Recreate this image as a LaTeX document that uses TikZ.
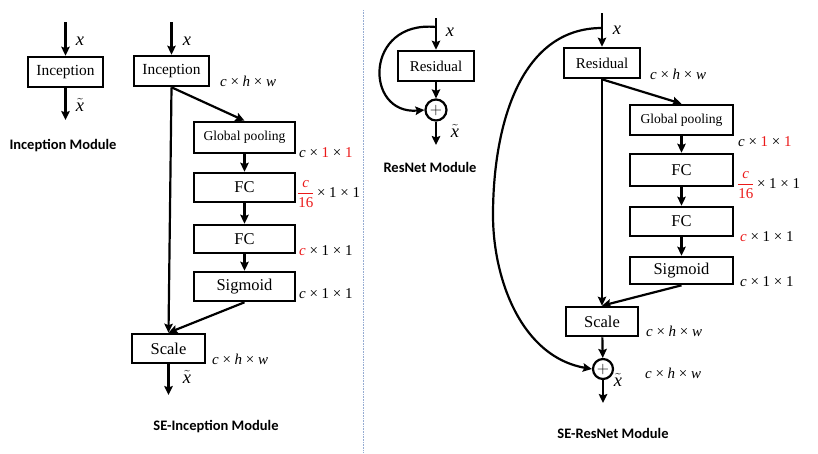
\RequirePackage{fix-cm}
\documentclass[tikz,border=0pt]{standalone}
\usepackage{amsmath}
\usepackage{fontspec}
\setmainfont{Liberation Serif}
\newfontfamily\capfont{Carlito}
\usetikzlibrary{arrows.meta}

\definecolor{dimred}{RGB}{235,25,25}
\definecolor{sepblue}{RGB}{150,172,210}

\newcommand{\vx}{\textit{x}}
\newcommand{\vxt}{$\tilde{\textit{x}}$}
\newcommand{\frsq}{\textcolor{dimred}{$\dfrac{\textit{c}}{\text{16}}$}}

\tikzset{
	block/.style		= {draw, line width=2.6pt, inner sep=0pt, minimum height=30pt, font=\fontsize{16.5}{16.5}\selectfont},
	sumnode/.style		= {circle, draw, line width=2.2pt, inner sep=0pt, minimum size=21pt, font=\fontsize{16}{16}\selectfont},
	dims/.style			= {anchor=west, inner sep=0pt, font=\fontsize{15}{15}\selectfont},
	varlbl/.style		= {inner sep=0pt, font=\fontsize{18.5}{18.5}\selectfont},
	modcap/.style		= {inner sep=0pt, font=\capfont\bfseries\fontsize{14.5}{14.5}\selectfont}
}

\begin{document}
\begin{tikzpicture}[->, > = {Stealth[length=9pt, width=8.5pt, inset=1.5pt]}, line width=2.2pt, x=1pt, y=-1pt]

\useasboundingbox (0,0) rectangle (818,453);

\draw[-, line width=0.6pt, densely dotted, sepblue] (363,10) -- (363,453);

\node[block, minimum width=75pt, font=\fontsize{15.4}{15.4}\selectfont]	(inc)		at (65.5,72)	{Inception};
\coordinate																(inc-in)	at (65.5,22);
\coordinate																(inc-out)	at (65.5,120);
\node[varlbl]															(inc-x)		at (80,41)		{\vx};
\node[varlbl]															(inc-xt)	at (80,105)		{\vxt};
\node[modcap]															(inc-cap)	at (63,146)		{Inception Module};

\path	(inc-in)	edge	(inc);
\path	(inc)		edge	(inc-out);

\node[block, minimum width=75pt, font=\fontsize{15.4}{15.4}\selectfont]	(seinc)		at (171.5,71)	{Inception};
\node[block, minimum width=101pt, minimum height=31pt, font=\fontsize{13.6}{13.6}\selectfont]	(gp1)	at (244.5,137.5)	{Global pooling};
\node[block, minimum width=101pt, minimum height=29pt]					(fc1a)		at (244.5,187.5)	{FC};
\node[block, minimum width=101pt, minimum height=28pt]					(fc1b)		at (244.5,239)		{FC};
\node[block, minimum width=101pt, minimum height=29pt]					(sig1)		at (244.5,286.5)	{Sigmoid};
\node[block, minimum width=73pt, minimum height=29pt]					(scl1)		at (168.5,348.5)	{Scale};
\coordinate																(seinc-in)	at (171.5,22);
\coordinate																(scl1-out)	at (168.5,395);
\node[varlbl]															(seinc-x)	at (187,41)		{\vx};
\node[varlbl]															(scl1-xt)	at (187,377)	{\vxt};
\node[dims]																(seinc-d)	at (219,81)		{\textit{c} × \textit{h} × \textit{w}};
\node[dims]																(gp1-d)		at (298,153)	{\textit{c} × \textcolor{dimred}{1} × \textcolor{dimred}{1}};
\node[dims]																(fc1a-d)	at (296,194)	{\frsq\,× 1 × 1};
\node[dims]																(fc1b-d)	at (298,251)	{\textcolor{dimred}{\textit{c}} × 1 × 1};
\node[dims]																(sig1-d)	at (298,294)	{\textit{c} × 1 × 1};
\node[dims]																(scl1-d)	at (211,359)	{\textit{c} × \textit{h} × \textit{w}};
\node[modcap]															(seinc-cap)	at (216,427)	{SE-Inception Module};

\path	(seinc-in)		edge	(seinc);
\path	(seinc.south)	edge	(gp1.north);
\path	(gp1)			edge	(fc1a);
\path	(fc1a)			edge	(fc1b);
\path	(fc1b)			edge	(sig1);
\path	(seinc.south)	edge	(scl1.north);
\path	(sig1.south)	edge	(scl1.north);
\path	(scl1)			edge	(scl1-out);

\node[block, minimum width=76pt, font=\fontsize{15}{15}\selectfont]		(res)		at (436,66)		{Residual};
\node[sumnode]															(sum)		at (436,110)	{$+$};
\coordinate																(res-in)	at (436,18);
\coordinate																(res-skip)	at (436,27);
\coordinate																(res-out)	at (436,145);
\node[varlbl]															(res-x)		at (450,32)		{\vx};
\node[varlbl]															(res-xt)	at (455,131)	{\vxt};
\node[modcap]															(res-cap)	at (430,167)	{ResNet Module};

\path	(res-in)	edge	(res);
\path	(res)		edge	(sum);
\path	(sum)		edge	(res-out);
\draw	(res-skip) .. controls (364,20) and (364,115) .. (sum.west);

\node[block, minimum width=76pt, font=\fontsize{15}{15}\selectfont]		(seres)		at (602,63)		{Residual};
\node[block, minimum width=103pt, minimum height=30pt, font=\fontsize{13.6}{13.6}\selectfont]	(gp2)	at (681.5,120)	{Global pooling};
\node[block, minimum width=103pt, minimum height=32pt]					(fc2a)		at (681.5,170)		{FC};
\node[block, minimum width=103pt, minimum height=29pt]					(fc2b)		at (681.5,221.5)	{FC};
\node[block, minimum width=103pt, minimum height=27pt]					(sig2)		at (681.5,270.5)	{Sigmoid};
\node[block, minimum width=72pt, minimum height=29pt]					(scl2)		at (602,321.5)		{Scale};
\node[sumnode, minimum size=20pt]										(sum2)		at (603,369)		{$+$};
\coordinate																(seres-in)	at (602,13);
\coordinate																(seres-skip)	at (602,28);
\coordinate																(sum2-out)	at (603,403);
\node[varlbl]															(seres-x)	at (617,30)		{\vx};
\node[varlbl]															(sum2-xt)	at (618,380)	{\vxt};
\node[dims]																(seres-d)	at (649,74)		{\textit{c} × \textit{h} × \textit{w}};
\node[dims]																(gp2-d)		at (737,142)	{\textit{c} × \textcolor{dimred}{1} × \textcolor{dimred}{1}};
\node[dims]																(fc2a-d)	at (736,185)	{\frsq\,× 1 × 1};
\node[dims]																(fc2b-d)	at (739,237)	{\textcolor{dimred}{\textit{c}} × 1 × 1};
\node[dims]																(sig2-d)	at (739,282)	{\textit{c} × 1 × 1};
\node[dims]																(scl2-d)	at (645,331)	{\textit{c} × \textit{h} × \textit{w}};
\node[dims]																(sum2-d)	at (644,373)	{\textit{c} × \textit{h} × \textit{w}};
\node[modcap]															(seres-cap)	at (613,433)	{SE-ResNet Module};

\path	(seres-in)		edge	(seres);
\path	(seres.south)	edge	(gp2.north);
\path	(gp2)			edge	(fc2a);
\path	(fc2a)			edge	(fc2b);
\path	(fc2b)			edge	(sig2);
\path	(seres.south)	edge	(scl2.north);
\path	(sig2.south)	edge	(scl2.north);
\path	(scl2)			edge	(sum2);
\path	(sum2)			edge	(sum2-out);
\draw	(seres-skip) .. controls (518,28) and (493,130) .. (493,215) .. controls (493,280) and (522,357) .. (sum2.west);

\end{tikzpicture}
\end{document}
